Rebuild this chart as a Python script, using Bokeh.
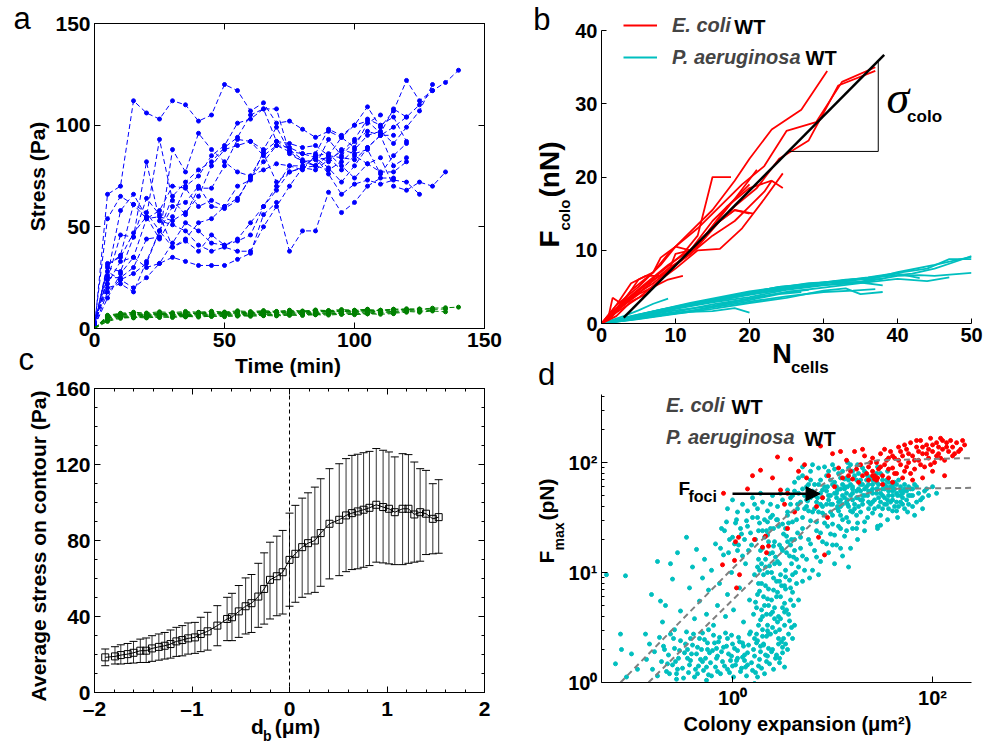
import numpy as np
from bokeh.plotting import figure
from bokeh.layouts import row, column
from bokeh.core.properties import value
from bokeh.models import (Range1d, LinearAxis, Legend, LegendItem, Arrow,
                          NormalHead, Whisker, TeeHead, ColumnDataSource, FixedTicker,
                          CustomJSTickFormatter, Span)
from bokeh.embed import file_html
from bokeh.resources import INLINE

SANS = "Liberation Sans"
SERIF = "Liberation Serif"

# ---------------- panel a : stress vs time ----------------
times = [0, 5, 10, 15, 20, 25, 30, 35, 40, 45, 50, 55, 60, 65, 70, 75, 80, 85, 90,
         95, 100, 105, 110, 115, 120, 125, 130, 135, 140]
ecoli_stress = [
    [0, 66, 70, 112, 106, 103, 112, 110, 102, 105, 120, 117, 107, 111, 101, 102, 98, 94, 97, 94, 100, 109, 99, 107, 122, 112, 117, 121, 127],
    [2, 54, 65, 61, 57, 48, 65, 72, 78, 82, 89, 94, 105, 108, 108, 86, 82, 80, 85, 84, 83, 89, 95, 99, 104, 110, 117],
    [1, 32, 35, 47, 55, 44, 55, 70, 75, 85, 90, 101, 103, 108, 92, 88, 83, 80, 78, 82, 88, 95, 97, 91, 99, 107, 120],
    [3, 30, 28, 45, 64, 56, 40, 44, 52, 54, 60, 64, 74, 82, 90, 89, 86, 86, 98, 95, 100, 102, 96, 108, 104],
    [2, 25, 25, 30, 44, 45, 88, 77, 96, 88, 82, 77, 75, 86, 72, 77, 79, 80, 93, 85, 92, 97, 95, 80, 84],
    [1, 18, 24, 27, 32, 48, 60, 62, 70, 60, 59, 63, 75, 78, 81, 80, 78, 85, 82, 88, 86, 88, 76, 85, 91],
    [2, 22, 33, 35, 54, 55, 53, 57, 65, 80, 88, 90, 92, 85, 90, 87, 82, 83, 84, 78, 85, 81, 84, 70, 68, 72, 70, 77],
    [1, 15, 27, 35, 30, 32, 42, 52, 48, 42, 41, 44, 52, 60, 70, 80, 80, 84, 76, 66, 71, 73, 71, 73, 72, 66],
    [3, 28, 24, 20, 25, 32, 35, 33, 31, 31, 31, 34, 37, 56, 62, 38, 48, 48, 67, 57, 62, 70, 74, 74],
    [2, 20, 22, 18, 33, 48, 40, 43, 38, 46, 41, 43, 46, 60, 68, 77, 79, 85, 86, 80, 74, 81, 77, 77, 82],
    [1, 26, 58, 66, 55, 93, 63, 56, 69, 69, 80, 93, 92, 88, 99, 87, 86, 84, 79, 72, 80, 89, 95, 95],
    [2, 24, 46, 45, 82, 53, 51, 48, 41, 38, 40, 38, 38, 50, 60, 70, 79, 78, 83, 87, 93, 103, 100, 104, 92],
    [1, 31, 36, 61, 54, 58, 70, 69, 60, 63, 60, 70, 73, 87, 92, 91, 89, 90, 85, 94, 89, 101, 105],
]
pa_stress = [
    [0, 5.5, 6.5, 6.8, 6.2, 6.9, 7.1, 6.6, 7.3, 7.0, 7.5, 7.8, 7.4, 8.0, 7.7, 8.2, 8.0, 8.4, 8.6, 8.3, 8.9, 9.1, 8.8, 9.4, 9.7, 9.5, 10.0, 10.2, 10.5],
    [0, 6.0, 7.2, 7.5, 7.0, 7.7, 7.3, 7.9, 7.6, 8.1, 7.8, 8.3, 8.0, 8.5, 8.2, 8.7, 8.4, 8.9, 8.6, 9.0, 8.8, 9.2, 9.0, 9.5, 9.3, 9.6, 9.4, 9.6],
    [0, 4.5, 5.6, 5.2, 5.8, 5.4, 6.0, 5.7, 6.2, 5.9, 6.4, 6.1, 6.6, 6.3, 6.8, 6.5, 7.0, 6.8, 7.2, 7.0, 7.5, 7.2, 7.7, 7.5, 8.0],
    [0, 5.0, 6.0, 6.4, 6.8, 6.5, 7.0, 6.7, 7.2, 6.9, 7.4, 7.1, 7.6, 7.3, 7.8, 7.5, 8.0, 7.7, 8.2, 7.9, 8.4, 8.1, 8.6, 8.3, 8.8, 8.5, 9.0],
    [0, 6.5, 7.5, 8.0, 7.6, 8.2, 7.8, 8.4, 8.0, 8.5, 8.1, 8.7, 8.3, 8.8, 8.4, 9.0, 8.6, 9.1, 8.8, 9.3, 9.0, 9.5],
    [0, 3.5, 5.0, 5.5, 5.2, 5.7, 5.4, 6.0, 5.6, 6.1, 5.8, 6.3, 6.0, 6.4, 6.2, 6.6, 6.4, 6.8, 6.6, 7.0, 6.8, 7.2, 7.0, 7.3],
    [0, 5.8, 6.8, 7.2, 6.9, 7.4, 7.1, 7.6, 7.3, 7.8, 7.5, 8.0, 7.7, 8.1, 7.9, 8.3, 8.1, 8.5, 8.3, 8.7, 8.5, 8.9, 8.7, 9.1, 8.9, 9.3],
    [0, 4.0, 5.4, 6.0, 5.8, 6.3, 6.0, 6.5, 6.2, 6.7, 6.4, 6.9, 6.6, 7.1, 6.8, 7.2, 7.0, 7.4, 7.2, 7.6],
    [0, 6.2, 7.0, 6.6, 7.2, 6.8, 7.4, 7.0, 7.6, 7.2, 7.8, 7.4, 8.0, 7.6, 8.2, 7.8, 8.4, 8.0, 8.6, 8.2, 8.8, 8.4, 9.0],
    [0, 5.2, 6.2, 5.8, 6.4, 6.0, 6.6, 6.2, 6.8, 6.4, 7.0, 6.6, 7.2, 6.8, 7.4, 7.0, 7.6, 7.2, 7.8, 7.4, 8.0, 7.6, 8.2, 7.8, 8.4, 8.0, 8.6, 8.2],
]
a_ticks = [0, 50, 100, 150]

# ---------------- panel b : colony force vs cell number ----------------
ecoli_n = [
    [0, 2, 4, 7, 9, 12, 15, 18, 20, 23, 27, 30.5],
    [0, 2, 5, 8, 10, 13, 16, 19, 22, 25, 29, 32.5, 37],
    [0, 3, 6, 9, 12, 15, 18, 21, 24, 28, 32, 37],
    [0, 2, 5, 8, 11, 13, 15, 17.5],
    [0, 3, 6, 9, 12, 15, 18, 20, 22, 23, 24.5],
    [0, 2, 5, 8, 10, 13, 16, 19, 22, 24.5],
    [0, 2, 4, 7, 10, 13, 16, 18, 20.5],
    [0, 1.5, 3, 5, 7, 9, 11],
    [0, 1, 1.5, 3, 5, 7, 9, 10, 12, 14, 16, 18, 20],
    [0, 1.5, 3, 5, 7, 8, 10, 12, 14, 16, 18, 20],
    [0, 2, 4, 6, 8, 10, 12, 14, 17, 20, 23],
    [0, 2, 4, 6, 8, 10, 12, 15, 18, 21],
]
ecoli_f = [
    [0, 2, 4.5, 7, 9.5, 12.5, 15.5, 19.5, 22.5, 26.5, 29.2, 34.5],
    [0, 2.5, 5, 8, 10.5, 13, 16, 19, 21.5, 26.3, 27.5, 33, 35],
    [0, 3, 5.5, 8, 10, 13, 16, 18.5, 22.5, 25, 32.5, 34.5],
    [0, 2, 4.5, 7, 9.5, 12, 20, 20],
    [0, 2.5, 5, 7.5, 9.5, 12, 14, 16, 18, 19.5, 18.5],
    [0, 1.5, 3.5, 6, 7.5, 10, 10.2, 13, 17, 20.5],
    [0, 2, 3.5, 5.5, 8, 10.5, 14, 15.5, 15],
    [0, 1.5, 2.5, 4, 5, 6, 6.5],
    [0, 1.2, 3.5, 2.5, 4.5, 6, 7, 9.5, 10, 12, 14.5, 17, 19],
    [0, 1, 3, 6, 7, 9, 10.5, 10, 12, 14, 15.5, 15],
    [0, 2.5, 5.5, 6.5, 6.5, 8, 9.5, 12, 16, 18.5, 19.5],
    [0, 1, 3, 4, 6, 8, 10, 14, 17, 21],
]
pa_n = [
    [0, 3, 6, 9, 12, 15, 18, 21, 24, 27, 30, 33, 36, 39, 42, 45, 48, 50],
    [0, 4, 8, 12, 16, 20, 24, 28, 32, 36, 40, 44, 47, 50],
    [0, 5, 10, 15, 20, 25, 30, 35, 40, 43, 45, 50],
    [0, 5, 10, 15, 20, 25, 30, 35, 40, 44, 47],
    [0, 4, 8, 12, 16, 20, 24, 28, 32, 35, 38],
    [0, 5, 10, 15, 20, 25, 30, 34, 37],
    [0, 3, 6, 9, 12, 15, 18, 20],
    [0, 3, 5, 7, 9],
    [0, 5, 10, 15, 20, 25, 30, 35, 38],
    [0, 5, 10, 15, 20, 25, 30, 33, 35, 38],
    [0, 4, 8, 12, 16, 20, 24, 28, 32],
    [0, 5, 10, 15, 20, 25, 30, 35, 40, 45, 50],
    [0, 5, 10, 15, 20, 25, 28],
    [0, 4, 8, 12, 16, 20, 24, 27],
    [0, 5, 10, 15, 20, 25, 30, 35, 40, 43],
    [0, 3, 6, 9, 12, 14],
]
pa_f = [
    [0, 0.6, 1.2, 1.8, 2.6, 3.2, 3.8, 4.4, 5.0, 5.3, 5.6, 6.0, 6.2, 6.5, 6.8, 7.5, 8.5, 9.2],
    [0, 0.8, 1.7, 2.5, 3.2, 4.0, 4.6, 5.3, 5.8, 6.3, 6.9, 7.5, 8.8, 8.8],
    [0, 0.9, 2.0, 2.9, 3.6, 4.6, 5.2, 5.6, 6.5, 6.6, 6.5, 6.9],
    [0, 0.8, 1.6, 2.6, 3.4, 4.3, 4.9, 5.5, 6.1, 5.8, 6.3],
    [0, 1.0, 1.9, 2.8, 3.6, 4.4, 4.9, 5.5, 5.7, 5.6, 5.2],
    [0, 0.7, 1.4, 2.2, 3.0, 3.7, 4.3, 4.5, 4.7],
    [0, 0.4, 0.9, 1.3, 1.6, 1.7, 2.1, 1.5],
    [0, 1.0, 1.8, 2.7, 3.4],
    [0, 1.0, 2.2, 3.1, 3.9, 4.8, 5.5, 6.0, 6.1],
    [0, 0.6, 1.3, 2.0, 2.8, 3.5, 4.5, 4.8, 4.0, 4.3],
    [0, 0.9, 1.9, 2.6, 3.3, 4.2, 5.0, 5.3, 5.8],
    [0, 1.1, 2.1, 3.0, 4.0, 4.7, 5.3, 5.7, 7.0, 8.0, 9.1],
    [0, 0.9, 1.8, 2.4, 3.4, 4.3, 4.6],
    [0, 0.5, 1.1, 1.7, 2.5, 3.2, 4.0, 4.3],
    [0, 1.2, 2.3, 3.3, 4.2, 4.9, 5.6, 6.1, 6.8, 6.2],
    [0, 0.6, 1.4, 1.9, 2.6, 3.0],
]
fit_n = [3, 38.2]
fit_f = [0.8, 36.7]
slope_tri_n = [25.3, 37.4, 37.4]
slope_tri_f = [23.5, 23.5, 35.9]
b_xticks = [0, 10, 20, 30, 40, 50]
b_yticks = [0, 10, 20, 30, 40]

# ---------------- panel c : stress vs distance to border ----------------
db = [-1.89, -1.79, -1.73, -1.66, -1.60, -1.53, -1.47, -1.41, -1.34, -1.28, -1.22, -1.16,
      -1.10, -1.04, -0.97, -0.91, -0.84, -0.74, -0.64, -0.59, -0.52, -0.45, -0.39, -0.32,
      -0.26, -0.20, -0.13, -0.07, 0.00, 0.06, 0.13, 0.19, 0.26, 0.32, 0.41, 0.51, 0.58,
      0.64, 0.70, 0.76, 0.82, 0.89, 0.96, 1.02, 1.08, 1.16, 1.22, 1.28, 1.34, 1.40, 1.47, 1.53]
stress_mean = [18.5, 19, 19.7, 20.2, 20.9, 22, 22, 23.2, 24, 24.6, 25.5, 26.9, 27.6, 28.5, 29,
               30.8, 32.2, 35.2, 38.7, 39.6, 42.7, 45.4, 47, 50.5, 54.5, 59.3, 61.2, 63.3, 69.8,
               73, 76.5, 78.6, 80, 83.9, 88.8, 90.9, 93.2, 94.4, 95.3, 96.2, 97.2, 98.8, 97.6,
               96.7, 94.9, 96.7, 96.7, 93.7, 94.9, 94.1, 91.4, 92.3]
stress_upper = [22.9, 24.1, 25.1, 25.8, 26.9, 28.1, 28.7, 29.9, 30.8, 31.6, 32.9, 34.3, 35.2,
                36.6, 36.9, 39.6, 42.2, 45.7, 50.1, 52.2, 56.3, 60.3, 62.1, 68, 73.5, 79.1,
                82.3, 85.3, 94.4, 98.5, 102.3, 105.1, 108.1, 112.5, 117.8, 120.4, 123.1, 124.8,
                125.4, 126.2, 126.9, 128.4, 127.5, 126.6, 124, 125.7, 125.2, 121.3, 117.8,
                116.9, 109.9, 112]
stress_lower = [14.1, 15, 15, 15.3, 15.5, 15.8, 15.8, 16.4, 17, 17.6, 18.1, 19, 19.3, 20.2,
                20.6, 21.5, 22.3, 24.6, 27.3, 27.3, 29, 30.8, 31.6, 34.3, 36, 38.7, 40.4, 41.3,
                45.4, 47.5, 50.1, 51.9, 52.7, 55.9, 59.8, 61.5, 63.6, 64.7, 65.1, 65.9, 66.8,
                68.6, 68.2, 67.7, 67.3, 67.3, 68, 68.6, 69.1, 72.6, 73, 73.3]
c_xticks = [-2, -1, 0, 1, 2]
c_yticks = [0, 40, 80, 120, 160]

# ---------------- panel d : max force vs colony expansion (log10 values) ----------------
pa_lowblob = [
    (-0.86, 0.21), (-0.83, 0.35), (-0.80, 0.12), (-0.78, 0.28), (-0.75, 0.06), (-0.73, 0.41),
    (-0.71, 0.19), (-0.69, 0.33), (-0.66, 0.10), (-0.64, 0.25), (-0.62, 0.44), (-0.60, 0.16),
    (-0.58, 0.31), (-0.56, 0.03), (-0.54, 0.22), (-0.52, 0.38), (-0.50, 0.13), (-0.48, 0.27),
    (-0.46, 0.46), (-0.44, 0.09), (-0.42, 0.20), (-0.40, 0.34), (-0.38, 0.05), (-0.36, 0.26),
    (-0.34, 0.15), (-0.33, 0.40), (-0.31, 0.30), (-0.29, 0.11), (-0.27, 0.22), (-0.25, 0.36),
    (-0.24, 0.07), (-0.22, 0.18), (-0.20, 0.29), (-0.19, 0.43), (-0.17, 0.14), (-0.15, 0.24),
    (-0.14, 0.37), (-0.12, 0.08), (-0.10, 0.19), (-0.09, 0.32), (-0.07, 0.45), (-0.05, 0.12),
    (-0.04, 0.26), (-0.02, 0.20), (0.00, 0.35), (0.01, 0.05), (0.03, 0.16), (0.05, 0.29),
    (0.06, 0.41), (0.08, 0.10), (0.10, 0.23), (0.11, 0.33), (0.13, 0.14), (0.15, 0.27),
    (0.17, 0.44), (0.19, 0.18), (0.21, 0.30), (0.23, 0.09), (0.25, 0.38), (0.27, 0.21),
    (0.29, 0.13), (0.31, 0.34), (0.33, 0.25), (0.35, 0.47), (0.37, 0.17), (0.40, 0.30),
    (0.43, 0.22), (0.46, 0.40), (0.50, 0.27), (0.53, 0.35), (-0.65, 0.17), (-0.45, 0.30),
    (-0.30, 0.19), (-0.16, 0.31), (-0.01, 0.24), (0.12, 0.20), (0.22, -0.01), (-0.26, 0.02),
    (-0.68, 0.30), (-0.63, 0.08), (-0.59, 0.40), (-0.57, 0.19), (-0.53, 0.29), (-0.49, 0.04),
    (-0.47, 0.35), (-0.43, 0.16), (-0.41, 0.26), (-0.39, 0.44), (-0.37, 0.12), (-0.35, 0.32),
    (-0.32, 0.21), (-0.28, 0.39), (-0.26, 0.14), (-0.23, 0.27), (-0.21, 0.06), (-0.18, 0.36),
    (-0.16, 0.22), (-0.13, 0.41), (-0.11, 0.28), (-0.08, 0.15), (-0.06, 0.33), (-0.03, 0.09),
    (-0.01, 0.43), (0.02, 0.31), (0.04, 0.20), (0.07, 0.37), (0.09, 0.13), (0.12, 0.25),
    (0.14, 0.06), (0.16, 0.34), (0.18, 0.46), (0.20, 0.11), (0.22, 0.24), (0.24, 0.36),
    (0.26, 0.15), (0.28, 0.28), (0.30, 0.42), (0.32, 0.08), (0.34, 0.19), (0.36, 0.31),
    (0.38, 0.44), (0.41, 0.12), (0.44, 0.25), (0.47, 0.18), (0.49, 0.37), (0.52, 0.14),
    (-0.58, 0.48), (-0.24, 0.48),
    (-0.55, 0.12), (-0.45, 0.22), (-0.35, 0.08), (-0.25, 0.30), (-0.15, 0.10), (-0.05, 0.40),
    (0.05, 0.22), (0.15, 0.16), (0.25, 0.05), (0.35, 0.24), (-0.42, 0.40), (-0.30, 0.45),
    (0.00, 0.15), (0.10, 0.36),
]
pa_leftmid = [
    (-1.26, 0.98), (-1.07, 0.97), (-1.17, 0.17), (-1.12, 0.44), (-1.11, 0.30), (-1.01, 0.26),
    (-1.06, 0.05), (-0.95, 0.12), (-0.87, 0.44), (-0.81, 0.80), (-0.75, 1.10), (-0.72, 0.74),
    (-0.67, 0.70), (-0.62, 1.08), (-0.60, 0.94), (-0.56, 0.08), (-0.52, 0.65), (-0.46, 1.32),
    (-0.43, 0.86), (-0.40, 1.05), (-0.38, 0.58), (-0.36, 1.21), (-0.33, 0.74), (-0.30, 0.95),
    (-0.28, 1.12), (-0.26, 0.62), (-0.24, 0.84), (-0.21, 1.02), (-0.19, 0.52), (-0.17, 1.26),
    (-0.15, 0.70), (-0.13, 0.90), (-0.11, 1.40), (-0.09, 1.16), (-0.07, 0.60), (-0.05, 0.80),
    (-0.03, 1.30), (-0.01, 1.00), (0.01, 0.66), (0.03, 1.45), (0.05, 1.20), (0.07, 0.86),
    (0.09, 1.35), (0.11, 0.55), (0.13, 1.08), (0.15, 1.42), (0.17, 0.75), (0.19, 1.25),
    (-0.70, 0.55), (-0.55, 1.18), (-0.12, 1.22), (-0.08, 1.38), (-0.04, 1.18), (0.00, 1.32),
    (0.04, 1.48), (0.06, 1.25), (0.08, 1.40), (0.10, 1.15), (0.12, 1.30), (0.14, 1.47),
    (0.16, 1.20), (0.18, 1.36), (0.20, 1.50), (0.02, 1.26), (-0.06, 1.46),
    (-0.05, 1.58), (0.00, 1.66), (0.05, 1.55), (0.10, 1.62), (0.15, 1.56), (0.20, 1.68),
    (0.25, 1.58), (0.30, 1.64), (0.35, 1.56), (0.40, 1.70), (0.45, 1.60), (0.50, 1.66),
    (0.55, 1.55), (0.60, 1.70), (0.65, 1.58), (0.25, 1.50), (0.30, 1.38), (0.35, 1.46),
    (0.40, 1.52), (0.45, 1.48), (0.50, 1.44), (0.55, 1.52), (0.60, 1.46), (0.65, 1.36),
    (0.70, 1.50), (0.22, 1.62), (0.28, 1.72), (0.38, 1.62), (0.48, 1.72), (0.58, 1.62),
]
pa_band = [
    (0.21, 0.62), (0.22, 0.98), (0.23, 1.30), (0.24, 0.44), (0.25, 0.80), (0.26, 1.12),
    (0.27, 1.45), (0.28, 0.57), (0.29, 0.90), (0.30, 1.22), (0.31, 0.35), (0.32, 0.70),
    (0.33, 1.05), (0.34, 1.38), (0.35, 0.52), (0.36, 0.85), (0.37, 1.17), (0.38, 1.50),
    (0.39, 0.28), (0.40, 0.64), (0.41, 0.95), (0.42, 1.28), (0.43, 0.46), (0.44, 0.78),
    (0.45, 1.10), (0.46, 1.42), (0.47, 0.22), (0.48, 0.58), (0.49, 0.88), (0.50, 1.20),
    (0.51, 0.40), (0.52, 0.72), (0.53, 1.02), (0.54, 1.33), (0.55, 0.30), (0.56, 0.62),
    (0.57, 0.93), (0.58, 1.25), (0.59, 0.50), (0.60, 0.82), (0.61, 1.14), (0.24, 0.68),
    (0.27, 1.02), (0.30, 0.48), (0.33, 0.88), (0.36, 1.28), (0.39, 0.75), (0.42, 1.08),
    (0.45, 0.55), (0.48, 0.98), (0.51, 1.35), (0.54, 0.66), (0.57, 1.15), (0.60, 0.40),
    (0.35, 1.00), (0.38, 0.62), (0.41, 1.40), (0.44, 0.92), (0.47, 1.25), (0.50, 0.68),
    (0.53, 0.85), (0.56, 1.45), (0.28, 1.20), (0.32, 1.48), (0.46, 0.35), (0.52, 0.52),
    (0.58, 0.75), (0.40, 1.18), (0.34, 0.62), (0.26, 0.90),
    (0.22, 0.40), (0.23, 0.73), (0.25, 1.05), (0.26, 1.38), (0.28, 0.33), (0.29, 0.66),
    (0.31, 0.98), (0.32, 1.32), (0.34, 0.42), (0.35, 0.76), (0.37, 1.06), (0.38, 1.40),
    (0.40, 0.50), (0.41, 0.84), (0.43, 1.14), (0.44, 1.48), (0.46, 0.60), (0.47, 0.92),
    (0.49, 1.22), (0.50, 0.32), (0.52, 0.64), (0.53, 0.96), (0.55, 1.28), (0.56, 0.44),
    (0.58, 0.86), (0.59, 1.08), (0.61, 0.70), (0.62, 0.52), (0.64, 0.90), (0.66, 0.75),
    (0.30, 0.60), (0.36, 0.70), (0.42, 0.58), (0.48, 0.78), (0.54, 1.18), (0.60, 0.98),
    (0.27, 0.83), (0.33, 1.12), (0.39, 1.00), (0.45, 0.82),
    (0.26, 0.52), (0.31, 0.78), (0.36, 0.44), (0.42, 0.68), (0.47, 0.48), (0.52, 0.88),
    (0.57, 0.56), (0.29, 1.08), (0.35, 1.34), (0.41, 1.24), (0.47, 1.08), (0.53, 1.40),
    (0.59, 1.30), (0.62, 1.20),
]
pa_mid = [
    (0.62, 1.30), (0.64, 1.48), (0.66, 1.05), (0.68, 1.22), (0.70, 1.40), (0.72, 1.58),
    (0.74, 1.12), (0.76, 1.30), (0.78, 1.47), (0.80, 1.02), (0.82, 1.20), (0.84, 1.38),
    (0.86, 1.55), (0.88, 1.10), (0.90, 1.28), (0.92, 1.45), (0.94, 1.62), (0.96, 1.18),
    (0.98, 1.35), (1.00, 1.52), (1.02, 1.08), (1.04, 1.25), (1.06, 1.42), (1.08, 1.60),
    (1.10, 1.15), (1.12, 1.33), (1.14, 1.50), (1.16, 1.05), (1.18, 1.22), (1.20, 1.40),
    (0.65, 1.62), (0.75, 1.65), (0.85, 1.68), (0.95, 1.42), (1.05, 1.58), (1.15, 1.62),
    (0.70, 1.15), (0.80, 1.55), (0.90, 1.60), (1.00, 1.25), (1.10, 1.48), (1.20, 1.55),
    (0.63, 1.00), (0.77, 0.95), (1.25, 1.30),
    (0.64, 1.12), (0.68, 1.32), (0.72, 1.02), (0.78, 1.26), (0.84, 1.14), (0.88, 1.36),
    (0.94, 1.26), (1.02, 1.34), (1.08, 1.22), (1.14, 1.38), (0.70, 0.92), (0.86, 0.98),
    (1.24, 1.40), (1.32, 1.38),
]
pa_high = [
    (0.55, 1.75), (0.58, 1.68), (0.62, 1.82), (0.66, 1.72), (0.70, 1.88), (0.74, 1.78),
    (0.78, 1.92), (0.82, 1.80), (0.86, 1.95), (0.90, 1.75), (0.94, 1.88), (0.98, 1.70),
    (1.00, 1.98), (1.02, 1.82), (1.04, 1.68), (1.06, 1.90), (1.08, 1.76), (1.10, 1.62),
    (1.12, 1.85), (1.14, 1.72), (1.16, 1.95), (1.18, 1.80), (1.20, 1.66), (1.22, 1.88),
    (1.24, 1.74), (1.26, 1.60), (1.28, 1.84), (1.30, 1.70), (1.32, 1.92), (1.34, 1.78),
    (1.36, 1.64), (1.38, 1.86), (1.40, 1.72), (1.42, 1.58), (1.44, 1.82), (1.46, 1.68),
    (1.48, 1.90), (1.50, 1.76), (1.52, 1.62), (1.54, 1.84), (1.56, 1.70), (1.58, 1.78),
    (1.60, 1.66), (1.62, 1.82), (1.64, 1.72), (1.66, 1.60), (1.68, 1.78), (1.70, 1.68),
    (1.72, 1.80), (1.74, 1.74), (1.76, 1.62), (1.78, 1.76), (1.80, 1.70), (1.84, 1.78),
    (1.88, 1.66), (1.92, 1.74), (1.96, 1.70), (2.00, 1.78), (2.04, 1.72), (1.90, 1.58),
    (1.82, 1.52), (1.75, 1.55), (1.65, 1.50), (1.55, 1.48), (1.45, 1.42), (1.35, 1.50),
    (1.25, 1.45), (1.15, 1.78), (1.05, 1.75), (0.95, 1.78), (1.10, 1.70), (1.20, 1.78),
    (1.30, 1.80), (1.40, 1.80), (1.50, 1.84), (1.60, 1.74), (1.70, 1.72), (1.25, 1.68),
    (1.35, 1.70), (1.45, 1.76), (1.55, 1.66), (1.65, 1.70), (1.15, 1.66), (1.05, 1.60),
    (1.35, 1.88), (1.45, 1.96), (1.25, 1.98), (1.15, 2.00), (1.55, 1.92), (1.40, 1.64),
    (1.50, 1.58), (1.60, 1.56), (1.70, 1.62), (1.80, 1.60), (1.45, 1.40), (1.48, 1.43),
    (1.28, 1.55), (1.18, 1.56), (1.08, 1.52), (0.98, 1.55), (0.88, 1.62), (0.78, 1.68),
    (0.68, 1.64),
    (0.62, 1.74), (0.66, 1.86), (0.70, 1.76), (0.74, 1.66), (0.78, 1.84), (0.82, 1.70),
    (0.86, 1.80), (0.90, 1.68), (0.94, 1.74), (0.98, 1.84), (1.02, 1.72), (1.06, 1.64),
    (1.10, 1.80), (1.14, 1.86), (1.18, 1.70), (1.22, 1.62), (1.26, 1.76), (1.30, 1.62),
    (1.34, 1.84), (1.38, 1.74), (1.42, 1.66), (1.46, 1.80), (1.50, 1.70), (1.54, 1.78),
    (1.58, 1.64), (1.62, 1.76), (1.66, 1.84), (1.70, 1.74), (1.74, 1.66), (1.78, 1.70),
    (1.82, 1.80), (1.86, 1.72), (1.90, 1.68), (1.94, 1.76), (1.00, 1.62), (1.04, 1.78),
    (1.08, 1.86), (1.12, 1.76), (1.16, 1.60), (1.20, 1.72), (1.24, 1.84), (1.28, 1.66),
    (1.32, 1.76), (1.36, 1.58), (1.40, 1.76), (1.44, 1.72), (1.48, 1.64), (1.52, 1.80),
    (1.56, 1.74), (1.60, 1.80), (1.64, 1.64), (1.68, 1.70), (1.72, 1.58), (1.76, 1.70),
    (1.80, 1.76), (0.84, 1.46), (0.92, 1.52), (1.00, 1.44), (1.08, 1.40), (1.16, 1.46),
    (1.24, 1.52), (1.32, 1.46), (1.40, 1.54), (1.48, 1.52), (1.56, 1.58), (1.64, 1.56),
    (0.76, 1.56), (0.88, 1.72), (0.96, 1.66), (1.12, 1.68), (1.28, 1.74), (1.36, 1.80),
    (1.44, 1.90), (1.52, 1.68), (1.60, 1.70), (1.68, 1.64), (1.76, 1.78), (1.84, 1.64),
    (1.20, 1.92), (1.30, 1.95),
    (0.72, 1.70), (0.76, 1.80), (0.80, 1.74), (0.84, 1.64), (0.88, 1.84), (0.92, 1.78),
    (0.96, 1.70), (1.00, 1.80), (1.04, 1.72), (1.08, 1.66), (1.12, 1.78), (1.16, 1.84),
    (1.20, 1.76), (1.24, 1.68), (1.28, 1.80), (1.32, 1.70), (1.36, 1.74), (1.40, 1.84),
    (1.44, 1.76), (1.48, 1.72), (1.52, 1.76), (1.56, 1.82), (1.60, 1.78), (1.64, 1.80),
    (1.68, 1.74), (1.72, 1.76), (0.74, 1.60), (0.82, 1.58), (0.90, 1.54), (0.98, 1.62),
    (1.06, 1.56), (1.14, 1.64), (1.22, 1.58), (1.30, 1.66), (1.38, 1.62), (1.46, 1.60),
    (1.54, 1.62), (1.62, 1.60), (0.70, 1.96), (0.80, 1.98), (0.92, 1.96), (1.02, 1.94),
    (1.10, 1.92), (1.18, 1.98), (1.26, 1.90), (0.96, 1.92),
]
ecoli_sparse = [
    (-0.09, 1.72), (0.02, 1.11), (0.07, 0.98), (-0.10, 1.07), (0.04, 0.86), (0.03, 1.28),
    (0.06, 1.32), (0.22, 1.30), (0.30, 1.23), (0.34, 1.18), (0.36, 1.24), (0.33, 1.33),
    (0.55, 1.40), (0.86, 1.32), (0.95, 1.50), (0.92, 1.16), (0.15, 1.76), (0.20, 1.88),
    (0.28, 1.93), (0.40, 1.86), (0.48, 1.75), (0.52, 1.62), (0.58, 2.03), (0.66, 1.92),
    (0.72, 1.98), (0.78, 1.70), (0.84, 1.60), (0.88, 2.15), (0.96, 1.88), (1.00, 2.08),
    (1.02, 1.78), (0.45, 2.05), (0.62, 1.55), (0.74, 1.86), (0.90, 1.68), (0.55, 1.72),
]
ecoli_dense = [
    (1.06, 1.95), (1.10, 1.86), (1.14, 2.02), (1.18, 1.92), (1.22, 2.10), (1.26, 1.82),
    (1.28, 1.98), (1.32, 2.06), (1.34, 1.90), (1.36, 1.84), (1.38, 2.00), (1.40, 1.88),
    (1.42, 1.85), (1.44, 1.86), (1.46, 1.94), (1.48, 2.08), (1.50, 1.88), (1.52, 1.98),
    (1.54, 2.02), (1.56, 1.86), (1.58, 2.10), (1.60, 1.95), (1.62, 2.04), (1.64, 1.90),
    (1.66, 2.14), (1.68, 1.98), (1.70, 2.06), (1.72, 1.92), (1.74, 2.12), (1.76, 2.00),
    (1.78, 2.18), (1.80, 2.06), (1.82, 1.94), (1.84, 2.14), (1.86, 2.02), (1.88, 2.20),
    (1.90, 2.08), (1.92, 1.96), (1.94, 2.16), (1.96, 2.04), (1.98, 2.22), (2.00, 2.10),
    (2.02, 2.00), (2.04, 2.18), (2.06, 2.08), (2.08, 2.22), (2.10, 2.12), (2.12, 2.02),
    (2.14, 2.18), (2.16, 2.10), (2.18, 2.20), (2.20, 2.14), (2.24, 2.18), (2.28, 2.12),
    (2.32, 2.16), (2.12, 1.88), (2.00, 1.92), (1.90, 1.86), (1.80, 1.84), (1.70, 1.86),
    (1.60, 1.82), (1.50, 1.80), (1.40, 1.92), (1.30, 1.88), (1.20, 1.85), (1.45, 1.86),
    (1.42, 1.88), (1.44, 1.84), (1.96, 2.12), (1.86, 2.10), (1.76, 2.08), (1.66, 2.02),
    (2.06, 2.14), (2.22, 2.08), (1.56, 1.94),
    (1.30, 2.12), (1.36, 1.96), (1.44, 2.00), (1.52, 2.12), (1.60, 2.06), (1.68, 2.10),
    (1.74, 1.96), (1.82, 2.02), (1.88, 1.98), (1.94, 2.08), (2.00, 2.16), (2.08, 2.04),
    (2.14, 2.14), (2.20, 2.06), (2.26, 2.10), (2.30, 2.20), (1.62, 1.90), (1.72, 2.16),
    (1.84, 2.20), (1.98, 1.98), (2.10, 2.20), (1.40, 2.04), (1.48, 1.96), (1.56, 2.04),
    (1.24, 1.94), (1.16, 1.88), (1.08, 2.10), (1.78, 1.90), (1.90, 2.14), (2.04, 2.06),
]
# dashed fit curves (log10 area, log10 force)
fit_hi_log = [(-1.12, 0.0), (-0.04, 1.0), (0.5, 1.48), (0.9, 1.8), (1.2, 1.96), (1.45, 2.02), (2.39, 2.04)]
fit_lo_log = [(-0.84, 0.0), (0.28, 1.0), (0.8, 1.45), (1.2, 1.68), (1.5, 1.76), (2.39, 1.77)]
foci_arrow_x = [1.0, 7.5]
foci_force = 52
d_xticks = [1, 100]
d_yticks = [1, 10, 100]
d_yminor = [2, 3, 4, 5, 6, 7, 8, 9, 20, 30, 40, 50, 60, 70, 80, 90, 200, 300, 400]

RED = "#FF0000"
CYAN = "#00BFBF"


# ---------------- helpers ----------------
class Geo:
    """Maps page-pixel positions to a figure's data coordinates (frame box in page px)."""
    def __init__(self, left, right, bottom, top, xr, yr, xlog=False, ylog=False):
        self.left, self.right, self.bottom, self.top = left, right, bottom, top
        self.xr, self.yr, self.xlog, self.ylog = xr, yr, xlog, ylog

    @staticmethod
    def _map(f, r, log):
        if log:
            a, b = np.log10(r[0]), np.log10(r[1])
            return float(10 ** (a + f * (b - a)))
        return float(r[0] + f * (r[1] - r[0]))

    def x(self, px):
        return self._map((px - self.left) / (self.right - self.left), self.xr, self.xlog)

    def y(self, py):
        return self._map((self.bottom - py) / (self.bottom - self.top), self.yr, self.ylog)


def base_fig(width, height, left, right, top, bottom, **kw):
    p = figure(width=width, height=height, output_backend="svg", toolbar_location=None,
               min_border_left=left, min_border_right=right, min_border_top=top,
               min_border_bottom=bottom, **kw)
    p.xgrid.visible = False
    p.ygrid.visible = False
    p.background_fill_color = "white"
    p.border_fill_color = "white"
    return p


def style_axis(ax, size="20px", tick_in=6, minor_in=0, labels=True):
    ax.axis_line_color = "black"
    ax.axis_line_width = 1
    ax.major_tick_line_color = "black"
    ax.minor_tick_line_color = "black"
    ax.major_tick_in = tick_in
    ax.major_tick_out = 0
    ax.minor_tick_in = minor_in
    ax.minor_tick_out = 0
    ax.major_label_standoff = 4
    if labels:
        ax.major_label_text_font = SANS
        ax.major_label_text_font_style = "bold"
        ax.major_label_text_font_size = size
        ax.major_label_text_color = "black"
    else:
        ax.major_label_text_font_size = "0px"
        ax.major_label_text_color = None
        ax.major_label_standoff = 0


def put(p, g, px, py, s, size, style="bold", angle=0.0, align="left", font=SANS):
    """Text placed by its (cap-height) centre line at page pixel (px, py)."""
    p.text(x=[g.x(px)], y=[g.y(py)], text=[s], text_font=value(font), text_font_size=value(size),
           text_font_style=value(style), angle=angle, text_align=value(align),
           text_baseline=value("middle"), text_color="black", level="overlay")


HALF_PI = np.pi / 2

# ================= panel a =================
ga = Geo(94, 484, 328, 23, (0, 150), (0, 150))
pa = base_fig(505, 378, 94, 21, 23, 50, x_range=Range1d(0, 150), y_range=Range1d(0, 150))
pa.outline_line_color = "black"
pa.xaxis.ticker = FixedTicker(ticks=a_ticks)
pa.yaxis.ticker = FixedTicker(ticks=a_ticks)
style_axis(pa.xaxis[0], size="21px")
style_axis(pa.yaxis[0], size="21px")
for loc in ("above", "right"):
    ax = LinearAxis(ticker=FixedTicker(ticks=a_ticks))
    style_axis(ax, labels=False)
    pa.add_layout(ax, loc)

blue_t = [times[:len(s)] for s in ecoli_stress]
pa.multi_line(blue_t, ecoli_stress, line_color="#0000FF", line_width=1, line_dash="5 3")
pa.scatter(np.concatenate(blue_t), np.concatenate(ecoli_stress), size=4, color="#0000FF")
green_t = [times[:len(s)] for s in pa_stress]
pa.multi_line(green_t, pa_stress, line_color="#008000", line_width=1, line_dash="5 3")
pa.scatter(np.concatenate(green_t), np.concatenate(pa_stress), size=4, color="#008000")

put(pa, ga, 37, 176, "Stress (Pa)", "21px", angle=HALF_PI, align="center")
put(pa, ga, 287.5, 364.5, "Time (min)", "21px", align="center")
put(pa, ga, 13, 18, "a", "31px", style="normal")
put(pa, ga, 18, 359, "c", "31px", style="normal")

# ================= panel c =================
gc = Geo(93, 489, 692, 388, (-2, 2), (0, 160))
pc = base_fig(505, 366, 93, 16, 10, 52, x_range=Range1d(-2, 2), y_range=Range1d(0, 160))
pc.outline_line_color = "black"
c_xminor = [round(v, 1) for v in np.arange(-2, 2.01, 0.2)]
c_yminor = list(range(0, 161, 10))
pc.xaxis.ticker = FixedTicker(ticks=c_xticks, minor_ticks=c_xminor)
pc.yaxis.ticker = FixedTicker(ticks=c_yticks, minor_ticks=c_yminor)
style_axis(pc.xaxis[0], size="21px", minor_in=3)
style_axis(pc.yaxis[0], size="21px", minor_in=3)
pc.xaxis.formatter = CustomJSTickFormatter(code="return tick < 0 ? '\u2013' + Math.abs(tick) : String(tick);")
ax = LinearAxis(ticker=FixedTicker(ticks=c_xticks, minor_ticks=c_xminor))
style_axis(ax, labels=False, minor_in=3)
pc.add_layout(ax, "above")
ax = LinearAxis(ticker=FixedTicker(ticks=c_yticks, minor_ticks=c_yminor))
style_axis(ax, labels=False, minor_in=3)
pc.add_layout(ax, "right")

pc.add_layout(Span(location=0, dimension="height", line_color="black", line_width=1, line_dash="4 3"))
src_c = ColumnDataSource(dict(x=db, mean=stress_mean, upper=stress_upper, lower=stress_lower))
pc.add_layout(Whisker(base="x", upper="upper", lower="lower", source=src_c, dimension="height",
                      line_color="#333333", line_width=1,
                      upper_head=TeeHead(size=8, line_color="black", line_width=1),
                      lower_head=TeeHead(size=8, line_color="black", line_width=1)))
pc.line("x", "mean", source=src_c, line_color="black", line_width=1)
pc.scatter("x", "mean", source=src_c, marker="square", size=7, fill_color=None, line_color="black")

put(pc, gc, 36.5, 545.5, "Average stress on contour (Pa)", "21px", angle=HALF_PI, align="center")
put(pc, gc, 252, 725.5, "d", "21px")
put(pc, gc, 264, 735, "b", "14px")
put(pc, gc, 276, 725.5, "(\u03bcm)", "21px")

# ================= panel b =================
gb = Geo(595, 974, 323, 14, (0, 50), (0, 42.2))
pb = base_fig(499, 393, 90, 30, 14, 70, x_range=Range1d(0, 50), y_range=Range1d(0, 42.2))
pb.outline_line_color = None
pb.xaxis.ticker = FixedTicker(ticks=b_xticks)
pb.yaxis.ticker = FixedTicker(ticks=b_yticks)
pb.yaxis.bounds = (0, 40)
style_axis(pb.xaxis[0], size="20px", tick_in=5)
style_axis(pb.yaxis[0], size="20px", tick_in=5)

r_cyan_b = pb.multi_line(pa_n, pa_f, line_color=CYAN, line_width=1.8)
r_red_b = pb.multi_line(ecoli_n, ecoli_f, line_color=RED, line_width=1.8)
pb.line(fit_n, fit_f, line_color="black", line_width=2.5)
pb.line(slope_tri_n, slope_tri_f, line_color="black", line_width=1)


def add_legend(p, r_red, r_cyan, loc):
    leg = Legend(items=[LegendItem(label="E. coli", renderers=[r_red]),
                        LegendItem(label="P. aeruginosa", renderers=[r_cyan])],
                 location=loc, orientation="vertical", glyph_width=34, glyph_height=20,
                 label_standoff=15, padding=0, spacing=9, margin=0, border_line_color=None,
                 background_fill_alpha=0, label_text_font=SANS, label_text_font_style="bold italic",
                 label_text_font_size="20px", label_height=20)
    p.add_layout(leg)


add_legend(pb, r_red_b, r_cyan_b, (22, 254.5))
put(pb, gb, 731, 26, "WT", "20px")
put(pb, gb, 804, 57, "WT", "20px")
put(pb, gb, 887, 96.5, "\u03c3", "46px", style="italic", font=SERIF)
put(pb, gb, 908, 115.5, "colo", "17px")
put(pb, gb, 541.7, 247, "F", "28px", angle=HALF_PI)
put(pb, gb, 556.6, 230, "colo", "15px", angle=HALF_PI)
put(pb, gb, 541.7, 197, "(nN)", "28px", angle=HALF_PI)
put(pb, gb, 770, 353.3, "N", "27px")
put(pb, gb, 789, 367, "cells", "17px")
put(pb, gb, 525, 19, "b", "31px", style="normal")
put(pb, gb, 530, 374, "d", "31px", style="normal")

# ================= panel d =================
d_top = 10 ** ((682 - 394) / 110)
gd = Geo(601, 971, 682, 394, (0.049, 245), (1, d_top), xlog=True, ylog=True)
pd_ = base_fig(499, 351, 96, 33, 1, 62, x_axis_type="log", y_axis_type="log",
               x_range=Range1d(0.049, 245), y_range=Range1d(1, d_top))
pd_.outline_line_color = None
pd_.xaxis.ticker = FixedTicker(ticks=d_xticks)
pd_.yaxis.ticker = FixedTicker(ticks=d_yticks, minor_ticks=d_yminor)
style_axis(pd_.xaxis[0], size="20px", tick_in=6)
style_axis(pd_.yaxis[0], size="20px", tick_in=6, minor_in=3)
sup_code = """
const e = Math.round(Math.log10(tick));
const sup = {'0':'\u2070','1':'\u00b9','2':'\u00b2','3':'\u00b3','-':'\u207b'};
return '10' + String(e).split('').map(c => sup[c]).join('');
"""
pd_.xaxis.formatter = CustomJSTickFormatter(code=sup_code)
pd_.yaxis.formatter = CustomJSTickFormatter(code=sup_code)

cyan_pts = np.array(pa_lowblob + pa_leftmid + pa_band + pa_mid + pa_high)
red_pts = np.array(ecoli_sparse + ecoli_dense)
pd_.scatter(10 ** cyan_pts[:, 0], 10 ** cyan_pts[:, 1], size=4, color=CYAN)
pd_.scatter(10 ** red_pts[:, 0], 10 ** red_pts[:, 1], size=4, color=RED)
for fit in (fit_hi_log, fit_lo_log):
    f = np.array(fit)
    pd_.line(10 ** f[:, 0], 10 ** f[:, 1], line_color="#808080", line_width=2, line_dash="6 4")
pd_.add_layout(Arrow(x_start=foci_arrow_x[0], y_start=foci_force, x_end=foci_arrow_x[1], y_end=foci_force,
                     line_color="black", line_width=2.5,
                     end=NormalHead(size=14, fill_color="black", line_color="black")))
r_red_d = pd_.line(x=[], y=[], line_color=RED, line_width=2)
r_cyan_d = pd_.line(x=[], y=[], line_color=CYAN, line_width=2)
add_legend(pd_, r_red_d, r_cyan_d, (16, 233))
put(pd_, gd, 731, 406.7, "WT", "20px")
put(pd_, gd, 804, 438, "WT", "20px")
put(pd_, gd, 678, 488, "F", "19px")
put(pd_, gd, 688, 496, "foci", "16px")
put(pd_, gd, 545.8, 563, "F", "21px", angle=HALF_PI)
put(pd_, gd, 558, 550, "max", "14px", angle=HALF_PI)
put(pd_, gd, 545.8, 520, "(pN)", "21px", angle=HALF_PI)
put(pd_, gd, 797, 723, "Colony expansion (\u03bcm\u00b2)", "20px", align="center")

layout = row(column(pa, pc), column(pb, pd_))
open("out.html", "w").write(file_html(layout, INLINE))
